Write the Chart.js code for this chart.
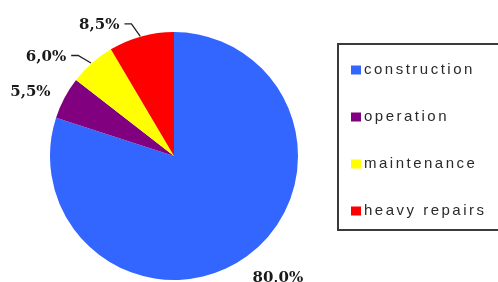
<!DOCTYPE html>
<html>
<head>
<meta charset="utf-8">
<script src="https://cdn.jsdelivr.net/npm/chart.js@4.4.1/dist/chart.umd.min.js"></script>
<style>
  html, body { margin: 0; padding: 0; background: #ffffff; }
  #wrap { width: 498px; height: 282px; position: relative; }
</style>
</head>
<body>
<div id="wrap"><canvas id="c" width="498" height="282"></canvas></div>
<script>
// ---- data ----
const categories = ['construction', 'operation', 'maintenance', 'heavy repairs'];
const shares = [80.0, 5.5, 6.0, 8.5];
const valueLabels = ['80,0%', '5,5%', '6,0%', '8,5%'];
const sliceColors = ['#3366ff', '#800080', '#ffff00', '#ff0000'];

// label placement relative to the slice's outer edge midpoint (style only)
const labelOffsets = [
  { dx: 31, dy: 22, leader: false },
  { dx: -34, dy: -6, leader: false },
  { dx: -46, dy: -6, leader: true },
  { dx: -42, dy: -11, leader: true }
];

const pieLabels = {
  id: 'pieLabels',
  afterDatasetsDraw(chart) {
    const ctx = chart.ctx;
    const meta = chart.getDatasetMeta(0);
    ctx.save();
    ctx.font = 'bold 15px "DejaVu Serif", serif';
    ctx.textAlign = 'center';
    ctx.textBaseline = 'middle';
    meta.data.forEach((arc, i) => {
      const p = arc.getProps(['x', 'y', 'startAngle', 'endAngle', 'outerRadius'], true);
      const mid = (p.startAngle + p.endAngle) / 2;
      const ex = p.x + Math.cos(mid) * p.outerRadius;
      const ey = p.y + Math.sin(mid) * p.outerRadius;
      const o = labelOffsets[i];
      const tx = ex + o.dx, ty = ey + o.dy;
      ctx.fillStyle = '#1a1a1a';
      ctx.fillText(valueLabels[i], tx, ty);
      if (o.leader) {
        const w = ctx.measureText(valueLabels[i]).width;
        const sx = tx + w / 2 + 5;
        ctx.strokeStyle = '#222';
        ctx.lineWidth = 1.3;
        ctx.beginPath();
        ctx.moveTo(sx, ty - 1.5);
        ctx.lineTo(sx + 7, ty - 1.5);
        ctx.lineTo(ex - 1, ey);
        ctx.stroke();
      }
    });
    ctx.restore();
  }
};

const boxLegend = {
  id: 'boxLegend',
  afterDraw(chart) {
    const ctx = chart.ctx;
    ctx.save();
    ctx.strokeStyle = '#3a3a3a';
    ctx.lineWidth = 2;
    ctx.strokeRect(338, 44, 200, 186);
    ctx.font = '15px "Liberation Sans", Arial, sans-serif';
    ctx.textBaseline = 'middle';
    ctx.textAlign = 'left';
    try { ctx.letterSpacing = '2.5px'; } catch (e) {}
    const ds = chart.data.datasets[0];
    chart.data.labels.forEach((lab, i) => {
      const cy = 70 + i * 47;
      ctx.fillStyle = ds.backgroundColor[i];
      ctx.fillRect(351, cy - 4.5, 10, 9);
      ctx.fillStyle = '#2a2a2a';
      ctx.fillText(lab, 364, cy);
    });
    ctx.restore();
  }
};

new Chart(document.getElementById('c'), {
  type: 'pie',
  data: {
    labels: categories,
    datasets: [{
      data: shares,
      backgroundColor: sliceColors,
      borderWidth: 0,
      hoverOffset: 0,
      offset: 0
    }]
  },
  options: {
    responsive: false,
    animation: false,
    layout: { padding: { left: 50, right: 200, top: 32, bottom: 2 } },
    plugins: {
      legend: { display: false },
      tooltip: { enabled: false }
    }
  },
  plugins: [pieLabels, boxLegend]
});
</script>
</body>
</html>
